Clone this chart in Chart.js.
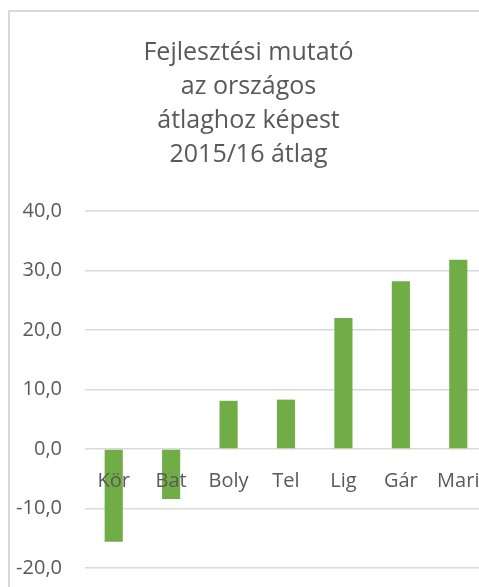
<!DOCTYPE html>
<html>
<head>
<meta charset="utf-8">
<script src="https://cdn.jsdelivr.net/npm/chart.js@4"></script>
<style>
    html, body { margin: 0; padding: 0; background: #fff; overflow: hidden; }
    #frame {
        position: absolute; left: 8px; top: 10px;
        border-left: 2px solid #d9d9d9; border-top: 2px solid #d9d9d9;
        width: 490px; height: 620px;
    }
</style>
</head>
<body>
<div id="frame"><canvas id="myChart" width="482" height="591"></canvas></div>
<script>
const titleLines = ["Fejlesztési mutató", "az országos", "átlaghoz képest", "2015/16 átlag"];
const categories = ["Kör", "Bat", "Boly", "Tel", "Lig", "Gár", "Mari"];
const values = [-15.6, -8.4, 8.1, 8.3, 22.0, 28.2, 31.8];
const yTickValues = [-20, -10, 0, 10, 20, 30, 40];

const textColor = "#595959";
const fontFamily = "'Open Sans', sans-serif";

const ctx = document.getElementById("myChart");
const chart = new Chart(ctx, {
    type: "bar",
    data: {
        labels: categories,
        datasets: [{
            data: values,
            backgroundColor: "#70ad47",
            categoryPercentage: 1,
            barPercentage: 0.316
        }]
    },
    options: {
        responsive: false,
        animation: false,
        layout: { padding: { left: 0, right: 5, top: 0, bottom: 5 } },
        plugins: {
            legend: { display: false },
            tooltip: { enabled: false },
            title: {
                display: true,
                text: titleLines,
                color: textColor,
                font: { family: fontFamily, size: 25, weight: "normal", lineHeight: 34 / 25 },
                padding: { top: 24, bottom: 39 }
            }
        },
        scales: {
            x: {
                position: { y: 0 },
                grid: { display: false },
                border: { display: false },
                ticks: {
                    z: 1,
                    color: textColor,
                    font: { family: fontFamily, size: 20 },
                    padding: 12,
                    maxRotation: 0,
                    autoSkip: false
                }
            },
            y: {
                min: -20,
                max: 40,
                afterBuildTicks: function (scale) {
                    scale.ticks = yTickValues.map(function (v) { return { value: v }; });
                },
                afterFit: function (scale) { scale.width = 75; },
                grid: { color: "#d9d9d9", lineWidth: 1.5, drawTicks: false },
                border: { display: false },
                ticks: {
                    color: textColor,
                    font: { family: fontFamily, size: 20 },
                    padding: 23,
                    callback: function (v) { return v.toFixed(1).replace(".", ","); }
                }
            }
        }
    }
});
</script>
</body>
</html>
